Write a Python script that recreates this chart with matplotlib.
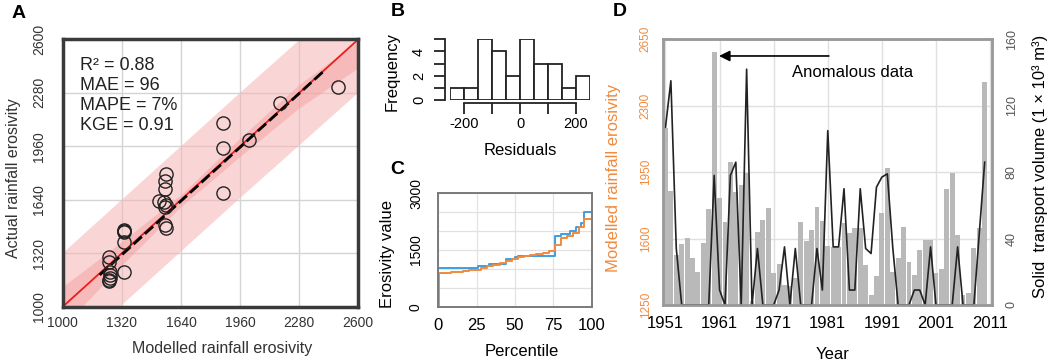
import numpy as np
import matplotlib
matplotlib.use("Agg")
import matplotlib.pyplot as plt

plt.rcParams['font.family'] = ['Liberation Sans', 'DejaVu Sans']

# ---- panel A: modelled vs actual erosivity
modelled = [1252, 1252, 1256, 1256, 1252, 1254, 1250, 1332, 1332, 1330, 1332, 1332,
            1521, 1560, 1555, 1555, 1550, 1559, 1552, 1555, 1559, 1866, 1869, 1866,
            2010, 2176, 2492]
actual = [1299, 1269, 1206, 1170, 1154, 1188, 1160, 1459, 1450, 1455, 1385, 1209,
          1632, 1792, 1754, 1702, 1628, 1608, 1595, 1489, 1473, 2098, 1948, 1682,
          1998, 2221, 2316]
stats_text = ["R\u00b2 = 0.88", "MAE = 96", "MAPE = 7%", "KGE = 0.91"]
band_x = [1000, 1320, 1640, 1960, 2280, 2600]
outer_lo = [690, 1010, 1330, 1650, 1965, 2280]
outer_hi = [1320, 1640, 1960, 2280, 2595, 2910]
inner_lo = [880, 1250, 1600, 1900, 2190, 2430]
inner_hi = [1120, 1390, 1670, 2010, 2330, 2590]
fit_x = [1200, 2420]
fit_y = [1190, 2417]
a_ticks = [1000, 1320, 1640, 1960, 2280, 2600]

# ---- panel B: residual histogram
bin_edges = [-250, -200, -150, -100, -50, 0, 50, 100, 150, 200, 250]
counts = [1, 1, 5, 4, 2, 5, 3, 3, 1, 2]

# ---- panel C: percentile curves
blue_pct = [0, 26, 33, 44, 50, 52, 76, 80, 86, 90, 93, 95, 100]
blue_val = [1032, 1076, 1120, 1253, 1306, 1341, 1880, 1924, 2012, 2118, 2206, 2515, 2515]
orange_pct = [0, 0.5, 4, 8, 12, 16, 20, 24, 28, 32, 36, 40, 44, 48, 52, 56, 60, 64,
              68, 72, 76, 80, 84, 88, 92, 95, 100]
orange_val = [0, 880, 900, 915, 930, 945, 960, 975, 1030, 1080, 1110, 1150, 1220, 1270,
              1310, 1340, 1370, 1400, 1430, 1470, 1620, 1810, 1880, 1960, 2120, 2330, 2330]

# ---- panel D: yearly series
years = list(range(1951, 2011))
erosivity = [2185, 1852, 1513, 1571, 1601, 1500, 1426, 1575, 1756, 2585,
             1816, 1689, 2005, 1847, 1882, 1947, 1270, 1636, 1698, 1759,
             1417, 1466, 1355, 1350, 1390, 1689, 1589, 1645, 1768, 1694,
             1561, 1557, 1557, 1680, 1628, 1657, 1657, 1461, 1303, 1403,
             1737, 1974, 1426, 1499, 1663, 1478, 1406, 1540, 1593, 1593,
             1417, 1438, 1860, 1944, 1619, 1303, 1311, 1549, 1657, 2427]
transport = [107, 135, 34, 0, 0, 0, 0, 0, 0, 78,
             9, 0, 78, 86, 0, 142, 0, 34, 0, 0,
             0, 9, 35, 0, 34, 0, 0, 0, 34, 9,
             105, 35, 35, 70, 9, 9, 70, 34, 31, 71,
             77, 79, 35, 0, 0, 0, 9, 9, 0, 35,
             0, 0, 0, 0, 35, 0, 0, 0, 43, 86]

ORANGE = '#f08a3e'
BLUE = '#3d9fe3'

fig = plt.figure(figsize=(10.52, 3.63), dpi=100)

# ================= A
ax = fig.add_axes([0.0596, 0.155, 0.281, 0.7366])
ax.fill_between(band_x, outer_lo, outer_hi, color='#f7b4b4', alpha=0.55, lw=0)
ax.fill_between(band_x, inner_lo, inner_hi, color='#f29a9a', alpha=0.45, lw=0)
ax.plot([1000, 2600], [1000, 2600], color='#ee1c1c', lw=1.3)
ax.plot(fit_x, fit_y, color='black', lw=2.0, dashes=(4, 1.5))
ax.plot(modelled, actual, 'o', mfc='none', mec='#222222', ms=9.5, mew=1.0)
ax.set_xlim(1000, 2600)
ax.set_ylim(1000, 2600)
ax.set_xticks(a_ticks)
ax.set_yticks(a_ticks)
ax.grid(color='#d4d4d4', lw=1)
ax.set_axisbelow(True)
ax.tick_params(length=0, labelsize=10, colors='#333333')
ax.tick_params(axis='x', pad=7)
ax.tick_params(axis='y', labelrotation=90, pad=12)
for lab in ax.get_yticklabels():
    lab.set_va('center')
for s in ax.spines.values():
    s.set_color('#3a3a3a')
    s.set_linewidth(2.5)
ax.text(0.06, 0.935, "\n".join(stats_text), transform=ax.transAxes, fontsize=13,
        va='top', ha='left', color='#222222', linespacing=1.25)
ax.set_xlabel("Modelled rainfall erosivity", fontsize=11.5, color='#333333')
ax.set_ylabel("Actual rainfall erosivity", fontsize=11.5, color='#333333')
ax.xaxis.set_label_coords(0.54, -0.155)
ax.xaxis.label.set_va('center')
ax.yaxis.set_label_coords(-0.168, 0.48)
ax.yaxis.label.set_va('center')

# ================= B
axb = fig.add_axes([0.428, 0.7245, 0.1328, 0.1672])
axb.bar(bin_edges[:-1], counts, width=50, align='edge', color='white',
        edgecolor='#222222', lw=1.3)
axb.set_xlim(-250, 250)
axb.set_ylim(0, 5)
for side in ['top', 'right']:
    axb.spines[side].set_visible(False)
axb.spines['bottom'].set_position(('outward', 2.5))
axb.spines['left'].set_position(('outward', 3.5))
axb.spines['bottom'].set_bounds(-200, 200)
axb.spines['left'].set_bounds(0, 5)
for side in ['bottom', 'left']:
    axb.spines[side].set_linewidth(1.3)
    axb.spines[side].set_color('#222222')
axb.set_xticks([-200, -100, 0, 100, 200])
axb.set_xticklabels(['-200', '', '0', '', '200'])
axb.set_yticks([0, 1, 2, 3, 4, 5])
axb.set_yticklabels(['0', '', '2', '', '4', ''])
axb.tick_params(length=8, width=1.3, labelsize=10.5, color='#222222')
axb.tick_params(axis='x', pad=1.5)
axb.tick_params(axis='y', labelrotation=90, pad=6)
for lab in axb.get_yticklabels():
    lab.set_va('center')
axb.set_xlabel("Residuals", fontsize=12)
axb.set_ylabel("Frequency", fontsize=12)
axb.xaxis.set_label_coords(0.505, -0.83)
axb.xaxis.label.set_va('center')
axb.yaxis.set_label_coords(-0.417, 0.466)
axb.yaxis.label.set_va('center')

# ================= C
axc = fig.add_axes([0.4166, 0.155, 0.1458, 0.3124])
axc.plot(blue_pct, blue_val, color=BLUE, lw=1.4, drawstyle='steps-post')
axc.plot(orange_pct, orange_val, color=ORANGE, lw=1.4, drawstyle='steps-post')
axc.set_xlim(0, 100)
axc.set_ylim(0, 3000)
axc.set_xticks([0, 25, 50, 75, 100])
axc.set_yticks(np.arange(0, 3001, 500))
axc.set_yticklabels(['0', '', '', '1500', '', '', '3000'])
axc.grid(color='#e2e2e2', lw=0.9)
axc.set_axisbelow(True)
axc.tick_params(length=0, labelsize=12)
axc.tick_params(axis='x', pad=8)
axc.tick_params(axis='y', labelrotation=90, labelsize=10, pad=11)
for lab in axc.get_yticklabels():
    lab.set_va('center')
for s in axc.spines.values():
    s.set_color('#7a7a7a')
    s.set_linewidth(1.4)
axc.set_xlabel("Percentile", fontsize=12)
axc.set_ylabel("Erosivity value", fontsize=12)
axc.xaxis.set_label_coords(0.544, -0.397)
axc.xaxis.label.set_va('center')
axc.yaxis.set_label_coords(-0.328, 0.465)
axc.yaxis.label.set_va('center')

# ================= D
axd = fig.add_axes([0.630, 0.1598, 0.3127, 0.732])
axd.bar(years, erosivity, width=0.9, color='#b9b9b9', lw=0)
axd.set_xlim(1950.5, 2011.3)
axd.set_ylim(1250, 2650)
axd.set_xticks([1951, 1961, 1971, 1981, 1991, 2001, 2011])
axd.set_yticks([1250, 1600, 1950, 2300, 2650])
axd.grid(color='#e0e0e0', lw=1)
axd.set_axisbelow(True)
axd.tick_params(length=0)
axd.tick_params(axis='x', labelsize=12, pad=8)
axd.tick_params(axis='y', labelsize=8.5, labelcolor=ORANGE, labelrotation=90, pad=8)
for lab in axd.get_yticklabels():
    lab.set_va('center')
axd.set_xlabel("Year", fontsize=12)
axd.set_ylabel("Modelled rainfall erosivity", fontsize=12, color=ORANGE)
axd.xaxis.set_label_coords(0.516, -0.188)
axd.xaxis.label.set_va('center')
axd.yaxis.set_label_coords(-0.151, 0.478)
axd.yaxis.label.set_va('center')

axr = axd.twinx()
axr.plot(years, transport, color='#222222', lw=1.2)
axr.set_ylim(0, 160)
axr.set_yticks([0, 40, 80, 120, 160])
axr.tick_params(length=0, labelsize=9, labelcolor='#555555', labelrotation=90, pad=10)
for lab in axr.get_yticklabels():
    lab.set_va('center')
axr.set_ylabel("Solid  transport volume (1 \u00d7 10\u00b3 m\u00b3)", fontsize=12)
axr.yaxis.set_label_coords(1.147, 0.52)
axr.yaxis.label.set_va('center')
for a in (axd, axr):
    for s in a.spines.values():
        s.set_color('#9a9a9a')
        s.set_linewidth(1.8)

axd.annotate("", xy=(1960.9, 2562), xytext=(1981.2, 2562),
             arrowprops=dict(arrowstyle='-|>', color='black', lw=1.2,
                             mutation_scale=16, shrinkA=0, shrinkB=0))
axd.text(1985.6, 2476, "Anomalous data", ha='center', va='center', fontsize=12)

# panel letters
for letter, x, y in [("A", 0.011, 0.962), ("B", 0.371, 0.967), ("C", 0.371, 0.532),
                     ("D", 0.582, 0.967)]:
    fig.text(x, y, letter, fontsize=14, fontweight='bold', va='center', ha='left')

fig.savefig("out.png", dpi=100)
